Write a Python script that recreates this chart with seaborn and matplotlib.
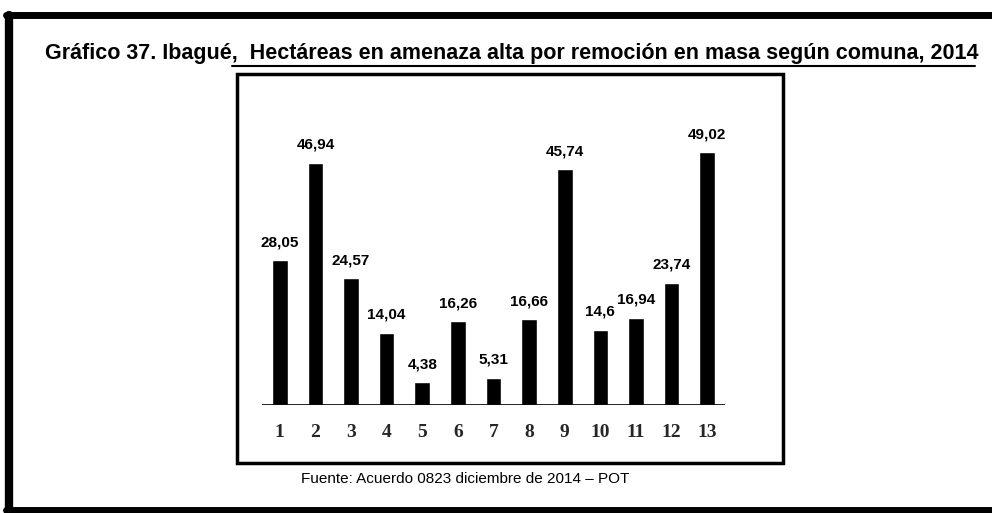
import matplotlib
matplotlib.use("Agg")
import matplotlib.pyplot as plt
from matplotlib import font_manager
from matplotlib.patches import Rectangle
from matplotlib.lines import Line2D
import seaborn as sns
import pandas as pd

comunas = ["1", "2", "3", "4", "5", "6", "7", "8", "9", "10", "11", "12", "13"]
hectareas = [28.05, 46.94, 24.57, 14.04, 4.38, 16.26, 5.31, 16.66, 45.74, 14.6, 16.94, 23.74, 49.02]
etiquetas = ["28,05", "46,94", "24,57", "14,04", "4,38", "16,26", "5,31", "16,66",
             "45,74", "14,6", "16,94", "23,74", "49,02"]
titulo = "Gráfico 37. Ibagué,  Hectáreas en amenaza alta por remoción en masa según comuna, 2014"
fuente = "Fuente: Acuerdo 0823 diciembre de 2014 – POT"

sns.set_style("white")
names = {f.name for f in font_manager.fontManager.ttflist}
narrow = "Liberation Sans Narrow" if "Liberation Sans Narrow" in names else "Liberation Sans"
plt.rcParams["font.family"] = ["Liberation Sans", "DejaVu Sans"]

df = pd.DataFrame({"comuna": comunas, "ha": hectareas})

W, H = 992, 513
fig = plt.figure(figsize=(W / 100, H / 100), dpi=100)
ax = fig.add_axes([262 / W, 1 - 405 / H, 463 / W, 268 / H])
sns.barplot(data=df, x="comuna", y="ha", color="black", width=0.44,
            saturation=1, ax=ax, order=comunas)
ax.set_xlim(-0.5, 12.5)
ax.set_ylim(0, 52)
ax.axhline(0, color="black", lw=1.2)
for s in ax.spines.values():
    s.set_visible(False)
ax.set_yticks([])
ax.set_xlabel("")
ax.set_ylabel("")
ax.tick_params(axis="x", length=0, pad=14)
for t in ax.get_xticklabels():
    t.set_fontfamily(["Liberation Serif", "DejaVu Serif"])
    t.set_fontweight("bold")
    t.set_fontsize(14)
for i, (v, lab) in enumerate(zip(hectareas, etiquetas)):
    ax.annotate(lab, (i, v), xytext=(0, 8), textcoords="offset points",
                ha="center", va="bottom", fontsize=11, fontweight="bold",
                family=[narrow, "DejaVu Sans"], color="black")

# chart frame
fig.add_artist(Rectangle((237 / W, 1 - 463 / H), (783 - 237) / W, (463 - 74) / H,
                         transform=fig.transFigure, fill=False, lw=2.5, ec="black"))
# outer page frame (left, top, bottom)
fig.add_artist(Line2D([9 / W, 9 / W], [1 - 15 / H, 1 - 511 / H], transform=fig.transFigure,
                      color="black", lw=6))
fig.add_artist(Line2D([6 / W, 1], [1 - 15 / H, 1 - 15 / H], transform=fig.transFigure,
                      color="black", lw=5))
fig.add_artist(Line2D([6 / W, 1], [1 - 510 / H, 1 - 510 / H], transform=fig.transFigure,
                      color="black", lw=5))

fig.text(512 / W, 1 - 53 / H, titulo, ha="center", va="center", fontsize=15.5,
         fontweight="bold", family=[narrow, "DejaVu Sans"], color="black")
fig.add_artist(Line2D([232 / W, 975 / W], [1 - 66 / H, 1 - 66 / H], transform=fig.transFigure,
                      color="black", lw=1.5))
fig.text(465 / W, 1 - 479 / H, fuente, ha="center", va="center", fontsize=11,
         family=[narrow, "DejaVu Sans"], color="black")

fig.savefig("out.png", dpi=100, facecolor="white")
